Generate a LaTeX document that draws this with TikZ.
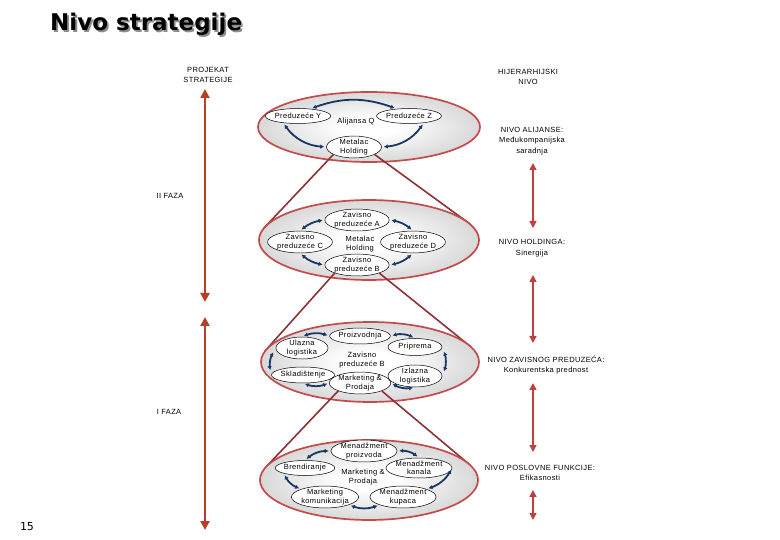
\documentclass[tikz,border=0pt]{standalone}
\usepackage{fontspec}
\setmainfont{Liberation Sans}
\newfontfamily\smf[LetterSpace=5]{Liberation Sans}
\newfontfamily\titf{DejaVu Sans}
\usetikzlibrary{shapes.geometric,arrows.meta,calc}
\definecolor{ellred}{RGB}{195,75,75}
\definecolor{navy}{RGB}{25,55,100}
\definecolor{conered}{RGB}{140,50,55}
\definecolor{sidered}{RGB}{190,65,65}
\definecolor{leftred}{RGB}{180,65,35}
\pgfdeclareradialshading{ellsh}{\pgfpoint{0bp}{0bp}}{color(0bp)=(white); color(6bp)=(white); color(50bp)=(black!35); color(70bp)=(black!35)}
\tikzset{
  bigell/.style={ellipse, draw=ellred, line width=1.7pt, shading=ellsh, inner sep=0pt},
  smell/.style={ellipse, draw=black, fill=white, line width=0.5pt, inner sep=0pt, align=center,
    font=\smf\fontsize{7.5}{8.5}\selectfont},
  lab/.style={inner sep=0pt, align=center, font=\smf\fontsize{7.5}{10.5}\selectfont},
  barrow/.style={draw=navy, line width=1.8pt, {Latex[length=4pt,width=4.5pt]}-{Latex[length=4pt,width=4.5pt]},
    shorten <=2pt, shorten >=2pt},
  coneline/.style={draw=conered, line width=1.6pt},
  rarrow/.style={draw=sidered, line width=1.5pt, {Triangle[length=7pt,width=7pt]}-{Triangle[length=7pt,width=7pt]}},
  larrow/.style={draw=leftred, line width=2.6pt, {Triangle[length=9pt,width=9pt]}-{Triangle[length=9pt,width=9pt]}},
  titlefont/.style={inner sep=0pt, anchor=west, font=\titf\bfseries\fontsize{23}{26}\selectfont}
}
\begin{document}
\begin{tikzpicture}[x=1pt,y=-1pt]
\useasboundingbox (0,0) rectangle (780,540);

% title with shadow
\node[titlefont, text=black!45] (titsh) at (51.8,25.8) {Nivo strategije};
\node[titlefont, text=black] (tit) at (50,24) {Nivo strategije};

% left labels and arrows
\node[lab] (proj) at (208,75) {PROJEKAT\\STRATEGIJE};
\node[lab] (faza2) at (170,196) {II FAZA};
\node[lab] (faza1) at (169,412) {I FAZA};
\coordinate (la1t) at (205,89);
\coordinate (la1b) at (205,302);
\coordinate (la2t) at (205,317);
\coordinate (la2b) at (205,530);
\draw[larrow] (la1t) -- (la1b);
\draw[larrow] (la2t) -- (la2b);
\node[inner sep=0pt, font=\titf\fontsize{11}{12}\selectfont] (pnum) at (27,527) {15};

% right labels and arrows
\node[lab] (hij) at (528,77) {HIJERARHIJSKI\\NIVO};
\node[lab] (nal) at (532,141) {NIVO ALIJANSE:\\Međukompanijska\\saradnja};
\node[lab] (nho) at (532,248) {NIVO HOLDINGA:\\Sinergija};
\node[lab] (nzp) at (546,365) {NIVO ZAVISNOG PREDUZEĆA:\\Konkurentska prednost};
\node[lab] (npf) at (540,473) {NIVO POSLOVNE FUNKCIJE:\\Efikasnosti};
\coordinate (ra1t) at (533,163); \coordinate (ra1b) at (533,228);
\coordinate (ra2t) at (533,275); \coordinate (ra2b) at (533,343);
\coordinate (ra3t) at (533,383); \coordinate (ra3b) at (533,452);
\coordinate (ra4t) at (533,490); \coordinate (ra4b) at (533,520);
\draw[rarrow] (ra1t) -- (ra1b);
\draw[rarrow] (ra2t) -- (ra2b);
\draw[rarrow] (ra3t) -- (ra3b);
\draw[rarrow] (ra4t) -- (ra4b);

% ===== level 1: alliance
\node[bigell, minimum width=222, minimum height=70] (E1) at (369,127) {};
\node[smell, minimum width=59, minimum height=15] (Y) at (298,116) {Preduzeće Y};
\node[smell, minimum width=57, minimum height=15] (Z) at (409,116) {Preduzeće Z};
\node[smell, minimum width=55, minimum height=21] (M1) at (354,147) {Metalac\\Holding};
\node[lab] (Q) at (356,122) {Alijansa Q};
\draw[barrow] (Y.30) to[bend left=20] (Z.150);
\draw[barrow] (Y.205) to[bend right=25] (M1.west);
\draw[barrow] (Z.335) to[bend left=25] (M1.east);

% cone 1
\coordinate (t2l) at (264,228);
\coordinate (t2r) at (470,224);
\draw[coneline] (M1.200) -- (t2l);
\draw[coneline] (M1.340) -- (t2r);

% ===== level 2: holding
\node[bigell, minimum width=220, minimum height=80] (E2) at (369,240) {};
\node[smell, minimum width=55, minimum height=20] (A) at (357,220) {Zavisno\\preduzeće A};
\node[smell, minimum width=55, minimum height=20] (C) at (300,242) {Zavisno\\preduzeće C};
\node[smell, minimum width=55, minimum height=20] (D) at (413,242) {Zavisno\\preduzeće D};
\node[smell, minimum width=55, minimum height=20] (B) at (357,265) {Zavisno\\preduzeće B};
\node[lab, font=\smf\fontsize{7.5}{9}\selectfont] (H2) at (360,244) {Metalac\\Holding};
\draw[barrow] (A.west) to[bend right=15] (C.north);
\draw[barrow] (A.east) to[bend left=15] (D.north);
\draw[barrow] (C.south) to[bend right=15] (B.west);
\draw[barrow] (B.east) to[bend right=15] (D.south);

% cone 2
\coordinate (t3l) at (265,351);
\coordinate (t3r) at (471,347);
\draw[coneline] (B.200) -- (t3l);
\draw[coneline] (B.340) -- (t3r);

% ===== level 3: subsidiary
\node[bigell, minimum width=218, minimum height=80] (E3) at (370,362) {};
\node[smell, minimum width=55, minimum height=16] (P) at (360,336) {Proizvodnja};
\node[smell, minimum width=52, minimum height=22] (U) at (302,348) {Ulazna\\logistika};
\node[smell, minimum width=54, minimum height=17] (Pr) at (415,347) {Priprema};
\node[smell, minimum width=57, minimum height=16] (S) at (303,375) {Skladištenje};
\node[smell, minimum width=54, minimum height=22] (I) at (415,376) {Izlazna\\logistika};
\node[smell, minimum width=56, minimum height=20] (MP) at (360,383) {Marketing \&\\Prodaja};
\node[lab, font=\smf\fontsize{7.5}{9}\selectfont] (H3) at (362,360) {Zavisno\\preduzeće B};
\draw[barrow] (U.north) to[bend left=20] (P.west);
\draw[barrow] (P.east) to[bend left=20] (Pr.north);
\draw[barrow, shorten <=5pt, shorten >=5pt] (Pr.east) to[bend left=20] (I.east);
\draw[barrow] (I.south) to[bend left=20] (MP.east);
\draw[barrow] (S.south) to[bend right=20] (MP.west);
\draw[barrow, shorten <=5pt, shorten >=5pt] (U.west) to[bend right=20] (S.west);

% cone 3
\coordinate (t4l) at (265,468);
\coordinate (t4r) at (470,465);
\draw[coneline] (MP.200) -- (t4l);
\draw[coneline] (MP.340) -- (t4r);

% ===== level 4: business function
\node[bigell, minimum width=218, minimum height=80] (E4) at (369,480) {};
\node[smell, minimum width=55, minimum height=18] (MPr) at (364,451) {Menadžment\\proizvoda};
\node[smell, minimum width=56, minimum height=15] (Br) at (305,468) {Brendiranje};
\node[smell, minimum width=52, minimum height=20] (MK) at (419,468) {Menadžment\\kanala};
\node[smell, minimum width=55, minimum height=21] (MKom) at (325,497) {Marketing\\komunikacija};
\node[smell, minimum width=57, minimum height=21] (MKup) at (403,497) {Menadžment\\kupaca};
\node[lab, font=\smf\fontsize{7.5}{9}\selectfont] (H4) at (363,477) {Marketing \&\\Prodaja};
\draw[barrow] (Br.north) to[bend left=20] (MPr.west);
\draw[barrow] (MPr.east) to[bend left=20] (MK.north);
\draw[barrow] (MK.east) to[bend left=20] (MKup.north east);
\draw[barrow] (MKup.south west) to[bend left=20] (MKom.south east);
\draw[barrow] (MKom.north west) to[bend left=20] (Br.south west);
\end{tikzpicture}
\end{document}
